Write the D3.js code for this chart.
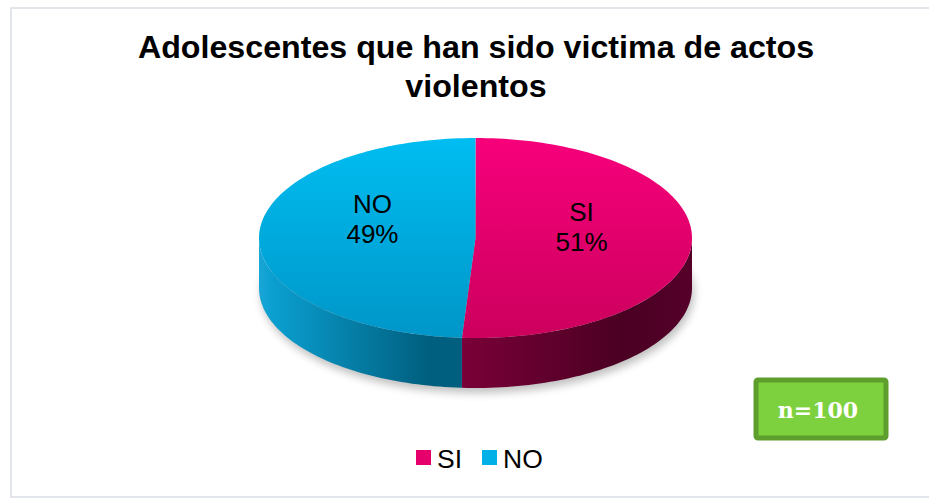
<!DOCTYPE html>
<html>
<head>
<meta charset="utf-8">
<script src="https://cdn.jsdelivr.net/npm/d3@7/dist/d3.min.js"></script>
<style>
  html, body { margin: 0; padding: 0; background: #fff; }
  svg { display: block; }
</style>
</head>
<body>
<svg id="chart" width="929" height="499"></svg>
<script>
// ---- data ----
const categories = ["SI", "NO"];
const values = [51, 49];
const labels = ["51%", "49%"];
const titleLines = ["Adolescentes que han sido victima de actos", "violentos"];
const sampleNote = "n=100";

// ---- styles ----
const topColors = { SI: ["#f7007b", "#cc005d"], NO: ["#00bdf1", "#0096c8"] };
const sideColors = { SI: ["#86003e", "#4a0022"], NO: ["#0a9fd0", "#005e7e"] };
const legendColors = { SI: "#e6006c", NO: "#00b0e6" };

const svg = d3.select("#chart");

// chart border
svg.append("rect").attr("x", 11).attr("y", 8).attr("width", 930).attr("height", 489)
  .attr("fill", "#fff").attr("stroke", "#d9dde2").attr("stroke-width", 1.5);

// title
const title = svg.append("text").attr("text-anchor", "middle")
  .attr("font-family", "Liberation Sans, Arial, sans-serif").attr("font-weight", "bold")
  .attr("font-size", 32.2).attr("fill", "#000");
titleLines.forEach((t, i) => {
  title.append("tspan").attr("x", 476).attr("y", 58 + i * 38.5).text(t);
});

// ---- pie geometry ----
const cx = 475.5, cy = 238, rx = 216.5, ry = 100, depth = 50;
const pt = (a, dy = 0) => [cx + rx * Math.sin(a), cy - ry * Math.cos(a) + dy];

const pie = d3.pie().sort(null).value(d => d.v).startAngle(0).endAngle(2 * Math.PI);
const arcs = pie(categories.map((c, i) => ({ c, v: values[i], l: labels[i] })));

const defs = svg.append("defs");
const f = defs.append("filter").attr("id", "blur").attr("x", "-20%").attr("y", "-20%").attr("width", "140%").attr("height", "140%");
f.append("feGaussianBlur").attr("stdDeviation", 4);

arcs.forEach(d => {
  const c = d.data.c;
  const gt = defs.append("linearGradient").attr("id", "top-" + c)
    .attr("gradientUnits", "userSpaceOnUse").attr("x1", 0).attr("y1", cy - ry).attr("x2", 0).attr("y2", cy + ry);
  gt.append("stop").attr("offset", 0).attr("stop-color", topColors[c][0]);
  gt.append("stop").attr("offset", 1).attr("stop-color", topColors[c][1]);
});
{
  const g1 = defs.append("linearGradient").attr("id", "side-SI")
    .attr("gradientUnits", "userSpaceOnUse").attr("x1", 420).attr("y1", 0).attr("x2", cx + rx).attr("y2", 0);
  g1.append("stop").attr("offset", 0).attr("stop-color", sideColors.SI[0]);
  g1.append("stop").attr("offset", 0.75).attr("stop-color", sideColors.SI[1]);
  g1.append("stop").attr("offset", 1).attr("stop-color", "#55002a");
  const g2 = defs.append("linearGradient").attr("id", "side-NO")
    .attr("gradientUnits", "userSpaceOnUse").attr("x1", cx - rx).attr("y1", 0).attr("x2", 430).attr("y2", 0);
  g2.append("stop").attr("offset", 0).attr("stop-color", "#1aa6d6");
  g2.append("stop").attr("offset", 0.08).attr("stop-color", sideColors.NO[0]);
  g2.append("stop").attr("offset", 1).attr("stop-color", sideColors.NO[1]);
}

// shadow beneath
svg.append("ellipse").attr("cx", cx + 2).attr("cy", cy + depth + 5).attr("rx", rx).attr("ry", ry)
  .attr("fill", "#000").attr("opacity", 0.25).attr("filter", "url(#blur)");

const N = 120;
function sample(a0, a1, dy) {
  const n = Math.max(2, Math.ceil(Math.abs(a1 - a0) / (2 * Math.PI) * N * 2));
  return d3.range(n + 1).map(i => pt(a0 + (a1 - a0) * i / n, dy));
}

// side walls (front half)
arcs.forEach(d => {
  const s = Math.max(d.startAngle, Math.PI / 2), e = Math.min(d.endAngle, 3 * Math.PI / 2);
  if (e <= s) return;
  const topPts = sample(s, e, 0), botPts = sample(e, s, depth);
  svg.append("path").attr("d", d3.line()(topPts.concat(botPts)) + "Z")
    .attr("fill", "url(#side-" + d.data.c + ")");
});

// top faces
arcs.forEach(d => {
  const p = [[cx, cy]].concat(sample(d.startAngle, d.endAngle, 0));
  svg.append("path").attr("d", d3.line()(p) + "Z").attr("fill", "url(#top-" + d.data.c + ")");
});

// data labels
arcs.forEach(d => {
  const mid = (d.startAngle + d.endAngle) / 2;
  const [lx] = pt(mid);
  const x = cx + (lx - cx) * 0.49 + (d.data.c === "NO" ? 3 : 0);
  const y = d.data.c === "SI" ? 221 : 213;
  const t = svg.append("text").attr("text-anchor", "middle")
    .attr("font-family", "Liberation Sans, Arial, sans-serif").attr("font-size", 26).attr("fill", "#000");
  t.append("tspan").attr("x", x).attr("y", y).text(d.data.c);
  t.append("tspan").attr("x", x).attr("y", y + 29.5).text(d.data.l);
});

// legend
const legendX = [416, 482];
categories.forEach((c, i) => {
  svg.append("rect").attr("x", legendX[i]).attr("y", 450).attr("width", 15).attr("height", 15)
    .attr("fill", legendColors[c]);
  svg.append("text").attr("x", legendX[i] + 21).attr("y", 468)
    .attr("font-family", "Liberation Sans, Arial, sans-serif").attr("font-size", 26.5).attr("fill", "#000").text(c);
});

// n=100 box
svg.append("rect").attr("x", 756).attr("y", 380).attr("width", 130).attr("height", 58).attr("rx", 2)
  .attr("fill", "#7ed13e").attr("stroke", "#5e9e2c").attr("stroke-width", 5);
svg.append("text").attr("x", 818).attr("y", 418).attr("text-anchor", "middle")
  .attr("font-family", "DejaVu Serif, serif").attr("font-weight", "bold").attr("font-size", 22)
  .attr("fill", "#fff").text(sampleNote);
</script>
</body>
</html>
